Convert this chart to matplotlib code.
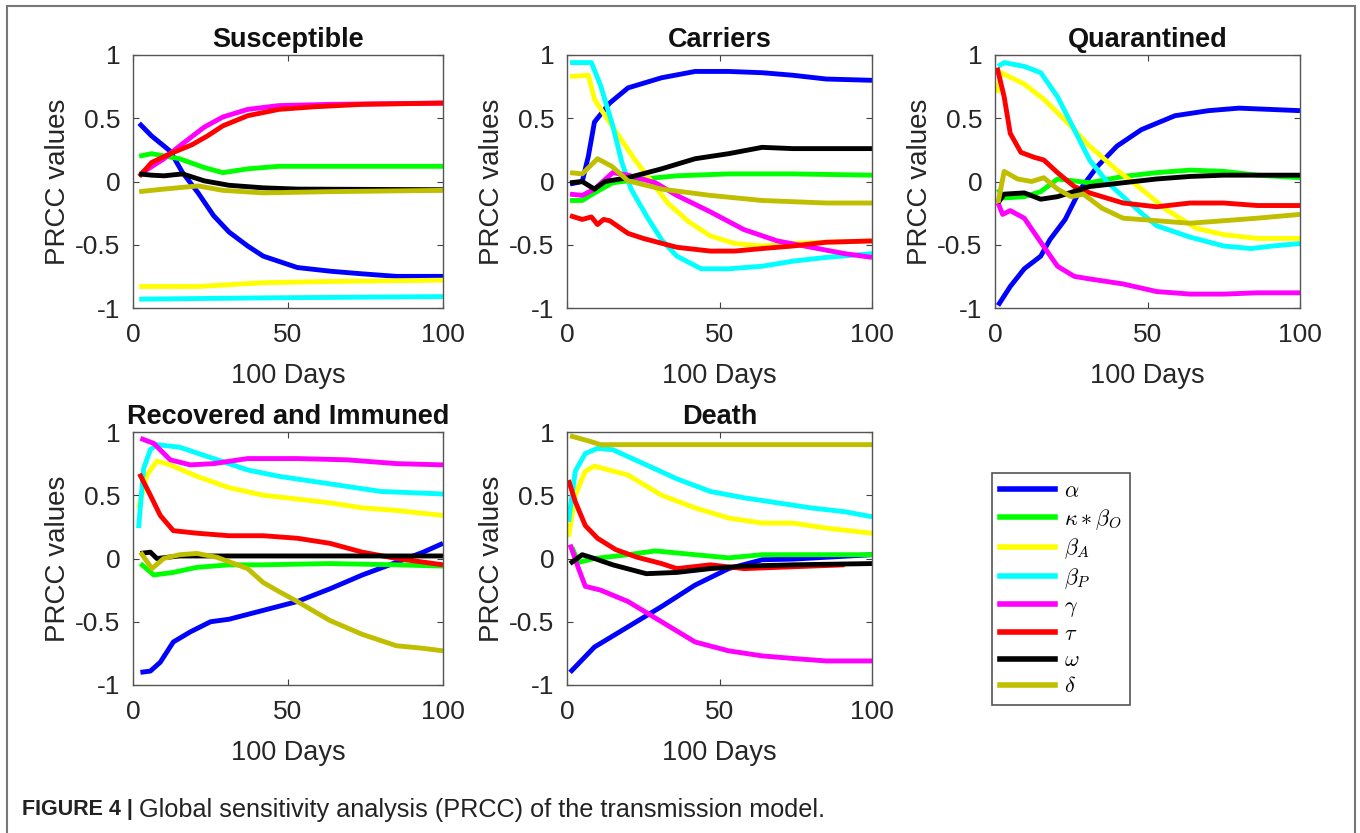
"""PRCC global sensitivity panels for the transmission model."""

import matplotlib
matplotlib.use("Agg")
import matplotlib.pyplot as plt
from matplotlib.lines import Line2D

plt.rcParams["font.family"] = ["Liberation Sans", "DejaVu Sans"]
plt.rcParams["mathtext.fontset"] = "cm"
plt.rcParams["axes.unicode_minus"] = False

# parameter keys in plotting order, legend labels and MATLAB-style colours
PARAMS = ["alpha", "kappa_beta_o", "beta_a", "beta_p", "gamma", "tau", "omega", "delta"]
LABELS = [r"$\alpha$", r"$\kappa * \beta_O$", r"$\beta_A$", r"$\beta_P$",
          r"$\gamma$", r"$\tau$", r"$\omega$", r"$\delta$"]
COLORS = ["#0000ff", "#00ff00", "#ffff00", "#00ffff", "#ff00ff", "#ff0000", "#000000", "#bfbf00"]

# each entry: (days, PRCC values)
SUSCEPTIBLE = {
    "alpha": ([2, 6, 12, 16, 21, 26, 31, 37, 42, 53, 64, 74, 85, 100],
              [0.46, 0.36, 0.24, 0.07, -0.09, -0.27, -0.40, -0.51, -0.59, -0.68, -0.71, -0.73, -0.75, -0.75]),
    "kappa_beta_o": ([2, 6, 15, 23, 29, 37, 47, 64, 100],
                     [0.20, 0.22, 0.18, 0.11, 0.07, 0.10, 0.12, 0.12, 0.12]),
    "beta_a": ([2, 21, 42, 64, 100], [-0.83, -0.83, -0.80, -0.79, -0.78]),
    "beta_p": ([2, 42, 100], [-0.93, -0.92, -0.91]),
    "gamma": ([3, 10, 15, 23, 29, 37, 47, 64, 100],
              [0.07, 0.18, 0.28, 0.43, 0.51, 0.57, 0.60, 0.61, 0.62]),
    "tau": ([2, 6, 12, 19, 24, 29, 37, 47, 58, 74, 100],
            [0.04, 0.15, 0.22, 0.29, 0.36, 0.44, 0.52, 0.57, 0.59, 0.61, 0.62]),
    "omega": ([2, 6, 10, 16, 23, 31, 42, 53, 100],
              [0.06, 0.05, 0.045, 0.06, 0.005, -0.03, -0.05, -0.06, -0.065]),
    "delta": ([2, 10, 21, 29, 42, 64, 100], [-0.08, -0.06, -0.035, -0.07, -0.09, -0.08, -0.07]),
}

CARRIERS = {
    "alpha": ([1, 5, 7, 9, 14, 20, 31, 42, 53, 64, 74, 85, 100],
              [-0.02, 0.0, 0.2, 0.47, 0.62, 0.74, 0.82, 0.87, 0.87, 0.86, 0.84, 0.81, 0.80]),
    "kappa_beta_o": ([1, 5, 9, 15, 25, 36, 53, 74, 100],
                     [-0.15, -0.15, -0.09, -0.01, 0.02, 0.045, 0.06, 0.06, 0.05]),
    "beta_a": ([1, 7, 9, 12.5, 17, 22, 28, 33, 40, 47, 55, 64, 74, 85, 100],
               [0.83, 0.84, 0.65, 0.52, 0.36, 0.18, -0.01, -0.17, -0.32, -0.43, -0.49, -0.51, -0.49, -0.48, -0.47]),
    "beta_p": ([1, 8, 11, 15, 18, 21, 26, 31, 36, 44, 53, 64, 74, 85, 100],
               [0.94, 0.94, 0.76, 0.44, 0.15, -0.06, -0.27, -0.46, -0.59, -0.69, -0.69, -0.67, -0.63, -0.60, -0.57]),
    "gamma": ([1, 5, 9, 15, 20, 29, 36, 47, 58, 69, 80, 91, 100],
              [-0.10, -0.11, -0.06, 0.07, 0.05, -0.01, -0.11, -0.24, -0.38, -0.47, -0.52, -0.57, -0.60]),
    "tau": ([1, 5, 8, 10, 12, 14, 20, 25, 36, 47, 55, 64, 74, 85, 100],
            [-0.27, -0.30, -0.28, -0.34, -0.30, -0.31, -0.41, -0.45, -0.52, -0.55, -0.55, -0.53, -0.51, -0.48, -0.47]),
    "omega": ([1, 5, 9, 12.5, 20, 31, 42, 53, 64, 74, 85, 100],
              [-0.01, 0.0, -0.06, 0.0, 0.03, 0.10, 0.18, 0.22, 0.27, 0.26, 0.26, 0.26]),
    "delta": ([1, 5, 10, 14.7, 20, 31, 47, 64, 85, 100],
              [0.07, 0.06, 0.18, 0.12, 0.005, -0.06, -0.11, -0.15, -0.17, -0.17]),
}

QUARANTINED = {
    "alpha": ([1, 5, 9.6, 15, 18, 23, 28, 33.6, 40, 48, 59, 70, 80, 100],
              [-0.98, -0.83, -0.69, -0.59, -0.46, -0.30, -0.06, 0.12, 0.28, 0.41, 0.52, 0.56, 0.58, 0.56]),
    "kappa_beta_o": ([1, 3, 9.6, 15, 20.5, 31, 42, 53, 64, 75, 86, 100],
                     [-0.06, -0.13, -0.12, -0.08, 0.02, -0.01, 0.04, 0.07, 0.09, 0.08, 0.05, 0.03]),
    "beta_a": ([0.7, 2, 9.6, 16, 24, 31, 40, 48, 56, 66, 75, 86, 100],
               [0.70, 0.86, 0.77, 0.65, 0.46, 0.28, 0.09, -0.06, -0.22, -0.37, -0.42, -0.45, -0.45]),
    "beta_p": ([1, 3, 9.6, 15, 20.5, 26, 31, 37, 42, 48, 53, 64, 75, 84, 91, 100],
               [0.91, 0.94, 0.91, 0.86, 0.67, 0.41, 0.17, -0.01, -0.12, -0.25, -0.35, -0.44, -0.51, -0.53, -0.51, -0.49]),
    "gamma": ([1, 2.5, 5, 9.6, 15, 20.5, 26, 31, 42, 53, 64, 75, 86, 100],
              [-0.17, -0.26, -0.23, -0.29, -0.48, -0.67, -0.75, -0.77, -0.81, -0.87, -0.89, -0.89, -0.88, -0.88]),
    "tau": ([0.7, 3, 5, 8.5, 13, 16, 20.5, 26, 31, 42, 53, 64, 75, 86, 100],
            [0.90, 0.67, 0.38, 0.23, 0.19, 0.17, 0.07, -0.04, -0.09, -0.17, -0.20, -0.17, -0.17, -0.19, -0.19]),
    "omega": ([1, 3, 9.6, 15, 20.5, 31, 42, 53, 64, 75, 100],
              [-0.17, -0.10, -0.09, -0.14, -0.12, -0.04, -0.01, 0.02, 0.04, 0.05, 0.05]),
    "delta": ([1, 3, 7.4, 12, 16, 20.5, 25, 29, 35, 42, 53, 64, 75, 86, 100],
              [-0.17, 0.08, 0.02, 0.0, 0.03, -0.06, -0.12, -0.10, -0.21, -0.29, -0.31, -0.33, -0.31, -0.29, -0.26]),
}

RECOVERED = {
    "alpha": ([2.4, 5.6, 8.8, 13, 18.5, 25, 31, 42, 53, 63.5, 74, 85, 93.6, 100],
              [-0.90, -0.89, -0.82, -0.66, -0.58, -0.50, -0.48, -0.41, -0.34, -0.24, -0.13, -0.03, 0.05, 0.12]),
    "kappa_beta_o": ([2.4, 6.7, 13, 20.6, 31, 42, 63.5, 85, 100],
                     [-0.04, -0.13, -0.11, -0.07, -0.05, -0.05, -0.04, -0.05, -0.06]),
    "beta_a": ([1.8, 4.5, 7.7, 12, 20.6, 31, 42, 53, 63.5, 74, 85, 100],
               [0.40, 0.66, 0.77, 0.74, 0.65, 0.56, 0.50, 0.47, 0.44, 0.40, 0.38, 0.34]),
    "beta_p": ([1.8, 3.4, 5.6, 7.7, 15, 26, 37, 47, 58, 69, 80, 90, 100],
               [0.24, 0.71, 0.86, 0.90, 0.88, 0.79, 0.70, 0.65, 0.61, 0.57, 0.53, 0.52, 0.51]),
    "gamma": ([2.4, 6.7, 12, 18.5, 26, 37, 53, 69, 85, 100],
              [0.95, 0.91, 0.78, 0.74, 0.75, 0.79, 0.79, 0.78, 0.75, 0.74]),
    "tau": ([2.1, 5.6, 8.8, 13, 20.6, 31, 42, 53, 63.5, 74, 85, 100],
            [0.67, 0.50, 0.34, 0.22, 0.20, 0.18, 0.18, 0.16, 0.12, 0.05, 0.0, -0.05]),
    "omega": ([2.4, 5.6, 7.7, 15, 31, 63.5, 100], [0.04, 0.05, 0.0, 0.02, 0.02, 0.02, 0.02]),
    "delta": ([2.4, 6.1, 9.9, 15, 20.6, 27, 37, 42, 47, 53, 63.5, 74, 85, 93.6, 100],
              [0.05, -0.08, 0.0, 0.03, 0.04, 0.01, -0.08, -0.19, -0.26, -0.34, -0.49, -0.60, -0.69, -0.71, -0.73]),
}

DEATH = {
    "alpha": ([1, 9, 20, 31, 42, 53, 64, 74, 85, 100],
              [-0.90, -0.70, -0.54, -0.38, -0.21, -0.08, -0.01, -0.005, 0.01, 0.03]),
    "kappa_beta_o": ([1.6, 3.8, 9, 20, 29, 42, 53, 64, 85, 100],
                     [0.09, -0.03, 0.0, 0.03, 0.06, 0.03, 0.005, 0.03, 0.03, 0.03]),
    "beta_a": ([0.5, 2.7, 6, 9, 20, 31, 42, 53, 64, 74, 85, 100],
               [0.17, 0.50, 0.69, 0.73, 0.66, 0.50, 0.40, 0.32, 0.28, 0.28, 0.24, 0.20]),
    "beta_p": ([0.5, 2.7, 6, 10, 15, 26, 36, 47, 58, 69, 80, 91, 100],
               [0.29, 0.69, 0.83, 0.87, 0.86, 0.74, 0.63, 0.53, 0.48, 0.44, 0.40, 0.37, 0.33]),
    "gamma": ([1, 3.8, 6, 11, 20, 31, 42, 53, 64, 74, 85, 100],
              [0.11, -0.08, -0.22, -0.25, -0.34, -0.50, -0.66, -0.73, -0.77, -0.79, -0.81, -0.81]),
    "tau": ([0.5, 2.7, 6, 10, 16, 23, 31, 36, 47, 58, 69, 80, 91],
            [0.62, 0.45, 0.26, 0.16, 0.07, 0.01, -0.04, -0.08, -0.05, -0.08, -0.07, -0.06, -0.05]),
    "omega": ([1, 5, 9, 15, 26, 36, 47, 58, 74, 100],
              [-0.04, 0.03, 0.0, -0.05, -0.12, -0.11, -0.08, -0.06, -0.05, -0.04]),
    "delta": ([1, 7, 11, 31, 64, 100], [0.97, 0.93, 0.90, 0.90, 0.90, 0.90]),
}

PANELS = [
    ("Susceptible", SUSCEPTIBLE),
    ("Carriers", CARRIERS),
    ("Quarantined", QUARANTINED),
    ("Recovered and Immuned", RECOVERED),
    ("Death", DEATH),
]

W, H = 1360, 833
# axes boxes in pixels: left, top, right, bottom
BOXES = [
    (133, 55, 443, 308),
    (567, 55, 872, 308),
    (995, 55, 1300, 308),
    (133, 432, 443, 685),
    (567, 432, 872, 685),
]

fig = plt.figure(figsize=(W / 100, H / 100), dpi=100)

for (title, panel), (left, top, right, bottom) in zip(PANELS, BOXES):
    ax = fig.add_axes([left / W, 1 - bottom / H, (right - left) / W, (bottom - top) / H])
    for key, color in zip(PARAMS, COLORS):
        days, values = panel[key]
        ax.plot(days, values, color=color, linewidth=3.5, solid_capstyle="butt")
    ax.set_xlim(0, 100)
    ax.set_ylim(-1, 1)
    ax.set_xticks([0, 50, 100])
    ax.set_yticks([-1, -0.5, 0, 0.5, 1])
    ax.set_yticklabels(["-1", "-0.5", "0", "0.5", "1"])
    ax.tick_params(direction="in", length=4, width=0.8, top=True, right=True,
                   labelsize=19, colors="#404040", labelcolor="#262626")
    ax.tick_params(axis="x", pad=11)
    ax.tick_params(axis="y", pad=9)
    for spine in ax.spines.values():
        spine.set_color("#555555")
        spine.set_linewidth(1.0)
    ax.set_title(title, fontsize=19.5, fontweight="bold", pad=6, color="#111111")
    ax.set_xlabel("100 Days", fontsize=19.5, color="#262626", labelpad=11)
    ax.set_ylabel("PRCC values", fontsize=20, color="#262626", labelpad=3)

handles = [Line2D([], [], color=c, linewidth=4) for c in COLORS]
leg = fig.legend(handles, LABELS, loc="upper left", bbox_to_anchor=(992 / W, 1 - 473 / H),
                 bbox_transform=fig.transFigure, borderaxespad=0, fontsize=16,
                 handlelength=2.5, handletextpad=0.4, labelspacing=0.23,
                 borderpad=0.35, fancybox=False, framealpha=1)
leg.get_frame().set_edgecolor("#555555")
leg.get_frame().set_linewidth(1.2)

# outer frame of the published figure
frame_kw = dict(color="#777777", linewidth=1.5, transform=None)
fig.add_artist(Line2D([7, 7], [0, H - 6], **frame_kw))
fig.add_artist(Line2D([7, 1355], [H - 6, H - 6], **frame_kw))
fig.add_artist(Line2D([1355, 1355], [0, H - 6], **frame_kw))

# caption
cap_y = 1 - 810 / H
t = fig.text(22 / W, cap_y, "FIGURE 4 |", fontsize=15.5, fontweight="bold",
             va="center", color="#222222")
fig.canvas.draw()
bb = t.get_window_extent()
fig.text((bb.x1 + 6) / W, cap_y, "Global sensitivity analysis (PRCC) of the transmission model.",
         fontsize=18.2, va="center", color="#222222")

fig.savefig("out.png", dpi=100)
